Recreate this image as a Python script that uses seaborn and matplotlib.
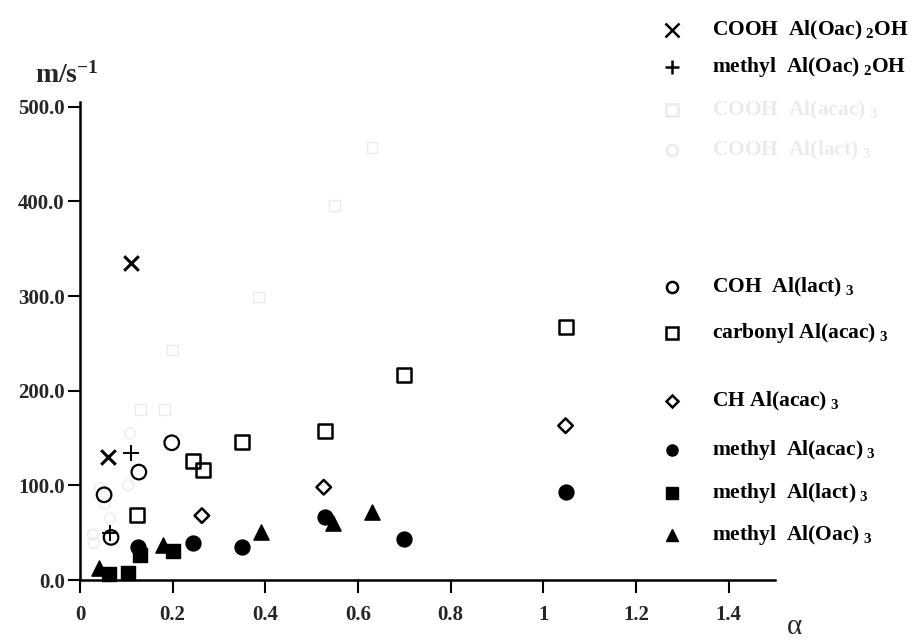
import matplotlib
matplotlib.use("Agg")
import matplotlib.pyplot as plt
from matplotlib.lines import Line2D
import seaborn as sns
import pandas as pd

sns.set_theme(style="white")
plt.rcParams['font.family'] = ['Liberation Serif', 'DejaVu Serif']
plt.rcParams['font.weight'] = 'bold'
plt.rcParams['mathtext.fontset'] = 'custom'
plt.rcParams['mathtext.rm'] = 'Liberation Serif:bold'
plt.rcParams['mathtext.bf'] = 'Liberation Serif:bold'
plt.rcParams['mathtext.it'] = 'Liberation Serif:bold'

# ---- data (alpha, m/s^-1) ----
cooh_oac2oh_x = [0.11, 0.06]
cooh_oac2oh_y = [335, 130]
methyl_oac2oh_x = [0.11, 0.065]
methyl_oac2oh_y = [134, 50]
cooh_acac_x = [0.13, 0.183, 0.20, 0.386, 0.55, 0.63]
cooh_acac_y = [180, 180, 243, 299, 396, 457]
cooh_lact_x = [0.043, 0.108, 0.104, 0.054, 0.065, 0.028, 0.030]
cooh_lact_y = [97, 155, 100, 81, 65, 48, 39]
coh_lact_x = [0.052, 0.067, 0.127, 0.198]
coh_lact_y = [90, 45, 114, 145]
carbonyl_acac_x = [0.123, 0.244, 0.265, 0.349, 0.528, 0.699, 1.048]
carbonyl_acac_y = [69, 126, 116, 146, 157, 217, 267]
ch_acac_x = [0.263, 0.526, 1.048]
ch_acac_y = [68, 98, 163]
methyl_acac_x = [0.125, 0.244, 0.349, 0.528, 0.699, 1.048]
methyl_acac_y = [35, 39, 35, 67, 43, 93]
methyl_lact_x = [0.062, 0.103, 0.129, 0.20]
methyl_lact_y = [6, 7, 26, 31]
methyl_oac_x = [0.041, 0.18, 0.39, 0.546, 0.63]
methyl_oac_y = [13, 37, 51, 60, 72]

x_ticks = [0, 0.2, 0.4, 0.6, 0.8, 1, 1.2, 1.4]
x_tick_labels = ["0", "0.2", "0.4", "0.6", "0.8", "1", "1.2", "1.4"]
y_ticks = [0, 100, 200, 300, 400, 500]
y_tick_labels = ["0.0", "100.0", "200.0", "300.0", "400.0", "500.0"]

faint = "#ebebeb"
series = [
    # x, y, marker, face, edge, size, lw, label, legend row (px)
    (cooh_oac2oh_x, cooh_oac2oh_y, 'x', 'black', 'black', 110, 2.2, r"COOH  Al(Oac)$_{\ 2}$OH", 30),
    (methyl_oac2oh_x, methyl_oac2oh_y, '+', 'black', 'black', 140, 1.4, r"methyl  Al(Oac)$_{\ 2}$OH", 67),
    (cooh_acac_x, cooh_acac_y, 's', 'none', faint, 60, 1.0, r"COOH  Al(acac)$_{\ 3}$", 110),
    (cooh_lact_x, cooh_lact_y, 'o', 'none', faint, 60, 1.0, r"COOH  Al(lact)$_{\ 3}$", 150),
    (coh_lact_x, coh_lact_y, 'o', 'none', 'black', 110, 1.6, r"COH  Al(lact)$_{\ 3}$", 287),
    (carbonyl_acac_x, carbonyl_acac_y, 's', 'none', 'black', 100, 1.8, r"carbonyl Al(acac)$_{\ 3}$", 333),
    (ch_acac_x, ch_acac_y, 'D', 'none', 'black', 55, 1.8, r"CH Al(acac)$_{\ 3}$", 401),
    (methyl_acac_x, methyl_acac_y, 'o', 'black', 'black', 115, 1.0, r"methyl  Al(acac)$_{\ 3}$", 450),
    (methyl_lact_x, methyl_lact_y, 's', 'black', 'black', 105, 1.0, r"methyl  Al(lact)$_{\ 3}$", 493),
    (methyl_oac_x, methyl_oac_y, '^', 'black', 'black', 120, 1.0, r"methyl  Al(Oac)$_{\ 3}$", 535),
]

W, H = 914, 642
fig = plt.figure(figsize=(W / 100, H / 100), dpi=100)
ax = fig.add_axes([80 / W, 1 - 580 / H, (775 - 80) / W, (580 - 102) / H])
ax.set_xlim(0, 1.5)
ax.set_ylim(0, 505)

for (xs, ys, mk, fc, ec, s, lw, lab, ly) in series:
    df = pd.DataFrame({"alpha": xs, "m": ys})
    if mk in ('x', '+'):
        sns.scatterplot(data=df, x="alpha", y="m", ax=ax, marker=mk, color=ec,
                        s=s, linewidth=lw, legend=False, zorder=3, clip_on=False)
    else:
        sns.scatterplot(data=df, x="alpha", y="m", ax=ax, marker=mk, facecolor=fc,
                        edgecolor=ec, s=s, linewidth=lw, legend=False, zorder=3,
                        clip_on=False)
    # legend entry
    ms = 8 if mk not in ('x', '+') else 10
    if mk == 'D':
        ms = 6
    if mk == '^':
        ms = 9
    txtcol = faint if ec == faint else 'black'
    fig.add_artist(Line2D([672 / W], [1 - ly / H], transform=fig.transFigure,
                          marker=mk, markersize=ms,
                          markerfacecolor=fc if fc != 'none' else 'none',
                          markeredgecolor=ec,
                          markeredgewidth=1.8 if (fc == 'none' or mk in ('x', '+')) else 1,
                          color=ec, linestyle='none'))
    fig.text(712 / W, 1 - ly / H, lab, fontsize=15.5, fontweight='bold',
             color=txtcol, va='center', ha='left')

sns.despine(ax=ax)
ax.spines['left'].set_linewidth(1.8)
ax.spines['bottom'].set_linewidth(1.8)
ax.spines['left'].set_color('black')
ax.spines['bottom'].set_color('black')
ax.set_xticks(x_ticks)
ax.set_xticklabels(x_tick_labels, fontsize=15, fontweight='bold')
ax.set_yticks(y_ticks)
ax.set_yticklabels(y_tick_labels, fontsize=15, fontweight='bold')
ax.tick_params(axis='x', direction='out', length=9, width=1.5, color='black', pad=9, bottom=True)
ax.tick_params(axis='y', direction='out', length=9, width=1.5, color='black', pad=2, left=True)
ax.set_xlabel("")
ax.set_ylabel("")
ax.grid(False)

fig.text(35 / W, 1 - 75 / H, r"m/s$^{-1}$", fontsize=20, fontweight='bold',
         va='center', ha='left')
fig.text(795 / W, 1 - 627 / H, "α", fontsize=21, fontweight='normal',
         family=['Liberation Serif', 'DejaVu Serif'], va='center', ha='center')

fig.savefig("out.png", dpi=100)
